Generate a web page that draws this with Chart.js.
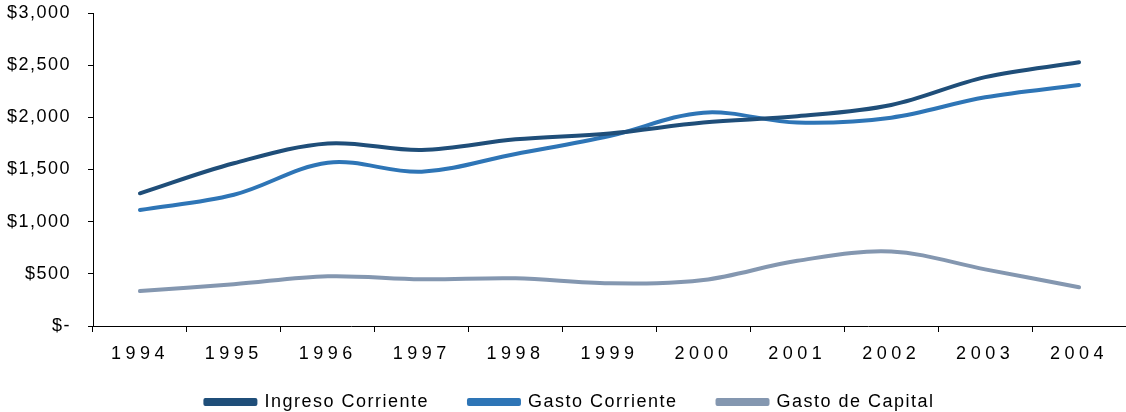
<!DOCTYPE html>
<html>
<head>
<meta charset="utf-8">
<script src="https://cdn.jsdelivr.net/npm/chart.js@4.4.1/dist/chart.umd.min.js"></script>
<style>
  html, body { margin: 0; padding: 0; background: #fff; }
  #wrap { width: 1126px; height: 412px; position: relative; }
</style>
</head>
<body>
<div id="wrap"><canvas id="c"></canvas></div>
<script>
const years = ['1994','1995','1996','1997','1998','1999','2000','2001','2002','2003','2004'];
const ingresoCorriente = [1272, 1560, 1750, 1687, 1789, 1845, 1950, 2010, 2118, 2385, 2527];
const gastoCorriente   = [1112, 1258, 1565, 1479, 1649, 1821, 2045, 1950, 1997, 2192, 2310];
const gastoCapital     = [335, 400, 477, 448, 457, 409, 441, 625, 714, 543, 371];
const seriesNames = ['Ingreso Corriente', 'Gasto Corriente', 'Gasto de Capital'];
const yTicks = [0, 500, 1000, 1500, 2000, 2500, 3000];

const FONT = "'Liberation Sans', Arial, Helvetica, sans-serif";
const LEGEND_PAD = 40;

const BaseCat = Chart.CategoryScale || Chart.registry.getScale('category');
class SpacedCategory extends BaseCat {
  _computeLabelArea() { return undefined; }
  drawLabels(area) {
    const ctx = this.ctx;
    ctx.save();
    ctx.letterSpacing = '4.5px';
    super.drawLabels(area);
    ctx.restore();
  }
}
SpacedCategory.id = 'spacedCategory';
SpacedCategory.defaults = BaseCat.defaults;
Chart.register(SpacedCategory);

const spacingPlugin = {
  id: 'spacing',
  beforeUpdate(chart) { chart.ctx.letterSpacing = '1.5px'; },
  beforeLayout(chart) {
    chart.ctx.letterSpacing = '1.5px';
    const lg = chart.legend;
    if (lg && !lg._patchedFit) {
      const orig = lg.fit.bind(lg);
      lg.fit = function () {
        orig();
        this.height = LEGEND_PAD + 19;
        if (this.lineWidths && this.lineWidths.length) this.lineWidths[0] -= 14;
      };
      lg._patchedFit = true;
    }
  },
  beforeDraw(chart) { chart.ctx.letterSpacing = '1.5px'; }
};

const mk = (label, data, color) => ({
  label, data,
  borderColor: color, backgroundColor: color,
  borderWidth: 4, pointRadius: 0, pointHoverRadius: 0,
  tension: 0.35, borderCapStyle: 'round', borderJoinStyle: 'round', fill: false
});

new Chart(document.getElementById('c'), {
  type: 'line',
  data: {
    labels: years,
    datasets: [
      mk(seriesNames[0], ingresoCorriente, '#1F4E79'),
      mk(seriesNames[1], gastoCorriente, '#2E75B6'),
      mk(seriesNames[2], gastoCapital, '#8497B0')
    ]
  },
  plugins: [spacingPlugin],
  options: {
    responsive: true, maintainAspectRatio: false, animation: false,
    layout: { padding: { top: 13, left: 0, right: 0, bottom: 0 } },
    plugins: {
      tooltip: { enabled: false },
      legend: {
        position: 'bottom',
        labels: {
          font: { family: FONT, size: 18 },
          color: '#000',
          boxWidth: 50, boxHeight: 4,
          padding: LEGEND_PAD
        }
      }
    },
    scales: {
      x: {
        type: 'spacedCategory',
        offset: true,
        afterFit(s) { s.height = 27; },
        grid: { offset: true, drawOnChartArea: false, color: '#000', tickLength: 6, lineWidth: 1 },
        border: { color: '#000', width: 1 },
        ticks: { font: { family: FONT, size: 18 }, color: '#000', padding: 11, autoSkip: false, maxRotation: 0 }
      },
      y: {
        min: 0, max: 3000,
        afterFit(s) { s.width = 93; s.paddingTop = 0; s.paddingBottom = 0; },
        afterBuildTicks(s) { s.ticks = yTicks.map(v => ({ value: v })); },
        grid: { drawOnChartArea: false, color: '#000', tickLength: 5, lineWidth: 1 },
        border: { color: '#000', width: 1 },
        ticks: {
          font: { family: FONT, size: 18 }, color: '#000', padding: 17,
          callback: v => v === 0 ? '$-' : '$' + Number(v).toLocaleString('en-US')
        }
      }
    }
  }
});
</script>
</body>
</html>
